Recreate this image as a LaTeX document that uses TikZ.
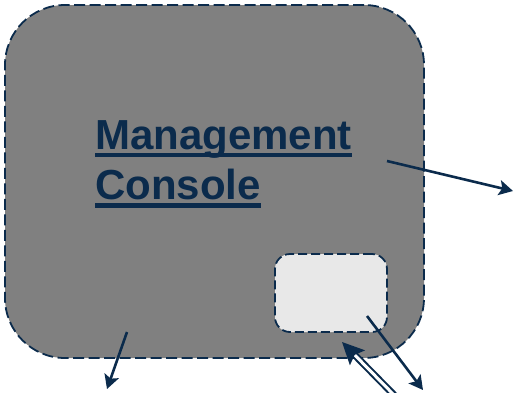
\documentclass[tikz,border=0pt]{standalone}
\usepackage{fontspec}
\setmainfont{Liberation Sans}
\usetikzlibrary{arrows.meta}

\definecolor{navy}{HTML}{0B2B4C}
\definecolor{consolegray}{HTML}{808080}
\definecolor{panelgray}{HTML}{E8E8E8}

\tikzset{
  dashbox/.style={draw=navy, line width=1.8pt, dash pattern=on 11pt off 4.5pt, inner sep=0pt},
  link/.style={draw=navy, line width=2.6pt, -{Stealth[length=14pt,width=15pt,inset=3pt]}},
  biglink/.style={draw=navy, line width=2pt, double=white, double distance=3pt,
    -{Stealth[length=22pt,width=21pt,inset=4pt]}},
  title/.style={font=\bfseries\fontsize{42pt}{50pt}\selectfont, text=navy, inner sep=0pt, anchor=base west},
  uline/.style={draw=navy, line width=4.5pt}
}

\begin{document}
\begin{tikzpicture}[x=1pt, y=-1pt]
    \useasboundingbox (0,0) rectangle (514,392);

    % Management Console box
    \node[dashbox, fill=consolegray, rounded corners=60pt,
          minimum width=419pt, minimum height=353pt] (console) at (214.5,181.5) {};

    % small panel inside
    \node[dashbox, fill=panelgray, rounded corners=15pt, dash pattern=on 9pt off 4pt,
          minimum width=112pt, minimum height=78pt] (panel) at (331,293) {};

    % title, underlined
    \node[title] (mgmt) at (95,149) {Management};
    \node[title] (cons) at (95,199) {Console};
    \draw[uline] ([yshift=-6pt]mgmt.base west) -- ([yshift=-6pt]mgmt.base east);
    \draw[uline] ([yshift=-6.5pt]cons.base west) -- ([yshift=-6.5pt]cons.base east);

    % arrow ends
    \coordinate (eastStart) at (387,161);
    \coordinate (eastEnd) at (513,191);
    \coordinate (southStart) at (127,332);
    \coordinate (southEnd) at (107,389);
    \coordinate (panelStart) at (367,316);
    \coordinate (panelEnd) at (423,390);
    \coordinate (inStart) at (396,397);
    \coordinate (inEnd) at (342,342);

    % links
    \draw[link] (eastStart) -- (eastEnd);
    \draw[link] (southStart) -- (southEnd);
    \draw[link] (panelStart) -- (panelEnd);
    \draw[biglink] (inStart) -- (inEnd);
\end{tikzpicture}
\end{document}
